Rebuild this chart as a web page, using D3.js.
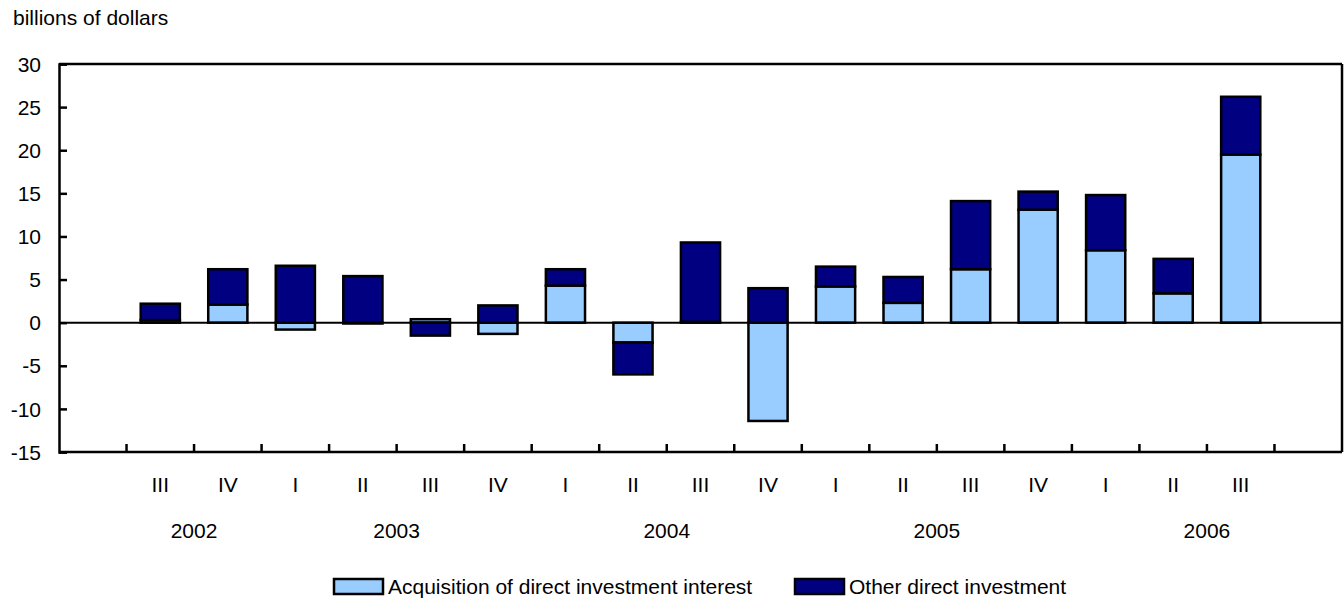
<!DOCTYPE html>
<html>
<head>
<meta charset="utf-8">
<script src="https://cdn.jsdelivr.net/npm/d3@7"></script>
<style>
  html, body { margin: 0; padding: 0; background: #fff; }
  svg text { font-family: "Liberation Sans", Arial, Helvetica, sans-serif; fill: #000; }
</style>
</head>
<body>
<svg id="chart" width="1344" height="598"></svg>
<script>
// ---- data ----
const categories = ["2002 II","2002 III","2002 IV","2003 I","2003 II","2003 III","2003 IV",
  "2004 I","2004 II","2004 III","2004 IV","2005 I","2005 II","2005 III","2005 IV",
  "2006 I","2006 II","2006 III","2006 IV"];
const quarterLabels = ["","III","IV","I","II","III","IV","I","II","III","IV","I","II","III","IV","I","II","III",""];
const acquisition = [null,0.3,2.1,-0.8,-0.1,0.4,-1.3,4.3,-2.3,0.1,-11.4,4.2,2.3,6.2,13.1,8.4,3.4,19.5,null];
const otherInvestment = [null,1.9,4.1,6.6,5.4,-1.5,2.0,1.9,-3.7,9.2,4.0,2.3,3.0,7.9,2.1,6.4,4.0,6.7,null];
const years = ["2002","2003","2004","2005","2006"];
const yearCategories = [
  ["2002 III","2002 IV"],
  ["2003 I","2003 II","2003 III","2003 IV"],
  ["2004 I","2004 II","2004 III","2004 IV"],
  ["2005 I","2005 II","2005 III","2005 IV"],
  ["2006 I","2006 II","2006 III","2006 IV"]
];
const yTicks = [30,25,20,15,10,5,0,-5,-10,-15];
const seriesNames = ["Acquisition of direct investment interest","Other direct investment"];
const seriesKeys = ["acq","other"];
const seriesColors = ["#99CCFF","#000080"];

// ---- layout ----
const svg = d3.select("#chart");
const plotL = 59, plotR = 1342, plotT = 64, plotB = 452;
const fontSize = 21;

const x = d3.scaleBand().domain(categories).range([plotL, plotR]).paddingInner(0.42).paddingOuter(0.21);
const xb = d3.scaleBand().domain(categories).range([plotL, plotR]);
const y = d3.scaleLinear().domain([-15, 30]).range([plotB, plotT]);

const rows = categories.map((c, i) => ({cat: c, acq: acquisition[i] || 0, other: otherInvestment[i] || 0, has: acquisition[i] !== null}));
const stacked = d3.stack().keys(seriesKeys).offset(d3.stackOffsetDiverging)(rows);

// bars
stacked.forEach((s, si) => {
  svg.append("g").selectAll("rect")
    .data(s.filter(d => d.data.has))
    .join("rect")
    .attr("x", d => x(d.data.cat))
    .attr("width", x.bandwidth())
    .attr("y", d => y(Math.max(d[0], d[1])))
    .attr("height", d => Math.abs(y(d[0]) - y(d[1])))
    .attr("fill", seriesColors[si])
    .attr("stroke", "#000")
    .attr("stroke-width", 2.5);
});

// zero line
svg.append("line").attr("x1", plotL).attr("x2", plotR).attr("y1", y(0)).attr("y2", y(0))
  .attr("stroke", "#000").attr("stroke-width", 2);

// frame: top & right
svg.append("line").attr("x1", plotL).attr("x2", plotR).attr("y1", plotT).attr("y2", plotT).attr("stroke", "#000").attr("stroke-width", 2.5);
svg.append("line").attr("x1", plotR).attr("x2", plotR).attr("y1", plotT).attr("y2", plotB).attr("stroke", "#000").attr("stroke-width", 2.5);

// y axis
const yAxis = d3.axisLeft(y).tickValues(yTicks).tickSize(-8).tickPadding(18).tickFormat(d => String(d));
const gy = svg.append("g").attr("transform", `translate(${plotL},0)`).call(yAxis);
gy.select(".domain").attr("stroke", "#000").attr("stroke-width", 2.5);
gy.selectAll(".tick line").attr("stroke", "#000").attr("stroke-width", 2.5);
gy.selectAll(".tick text").attr("font-size", fontSize).attr("font-family", "Liberation Sans, Arial, sans-serif").attr("dy", "0.34em");

// x axis (ticks at band boundaries, pointing inward)
const gx = svg.append("g");
gx.append("line").attr("x1", plotL).attr("x2", plotR).attr("y1", plotB).attr("y2", plotB).attr("stroke", "#000").attr("stroke-width", 2.5);
gx.selectAll("line.tk").data(categories.slice(1)).join("line").attr("class", "tk")
  .attr("x1", d => xb(d)).attr("x2", d => xb(d)).attr("y1", plotB).attr("y2", plotB - 8)
  .attr("stroke", "#000").attr("stroke-width", 2.5);

// quarter labels
svg.append("g").selectAll("text").data(categories).join("text")
  .attr("x", d => xb(d) + xb.bandwidth() / 2)
  .attr("y", 492)
  .attr("text-anchor", "middle")
  .attr("font-size", fontSize)
  .text((d, i) => quarterLabels[i]);

// year labels
svg.append("g").selectAll("text").data(years).join("text")
  .attr("x", (d, i) => {
    const cats = yearCategories[i];
    return (xb(cats[0]) + xb(cats[cats.length - 1]) + xb.bandwidth()) / 2;
  })
  .attr("y", 538)
  .attr("text-anchor", "middle")
  .attr("font-size", fontSize)
  .text(d => d);

// y unit label
svg.append("text").attr("x", 13).attr("y", 25).attr("font-size", fontSize).text("billions of dollars");

// legend
const legendX = [334, 795];
const lg = svg.append("g");
seriesNames.forEach((n, i) => {
  lg.append("rect").attr("x", legendX[i]).attr("y", 579).attr("width", 49).attr("height", 15)
    .attr("fill", seriesColors[i]).attr("stroke", "#000").attr("stroke-width", 2.5);
  lg.append("text").attr("x", legendX[i] + 54).attr("y", 594).attr("font-size", fontSize).text(n);
});
</script>
</body>
</html>
